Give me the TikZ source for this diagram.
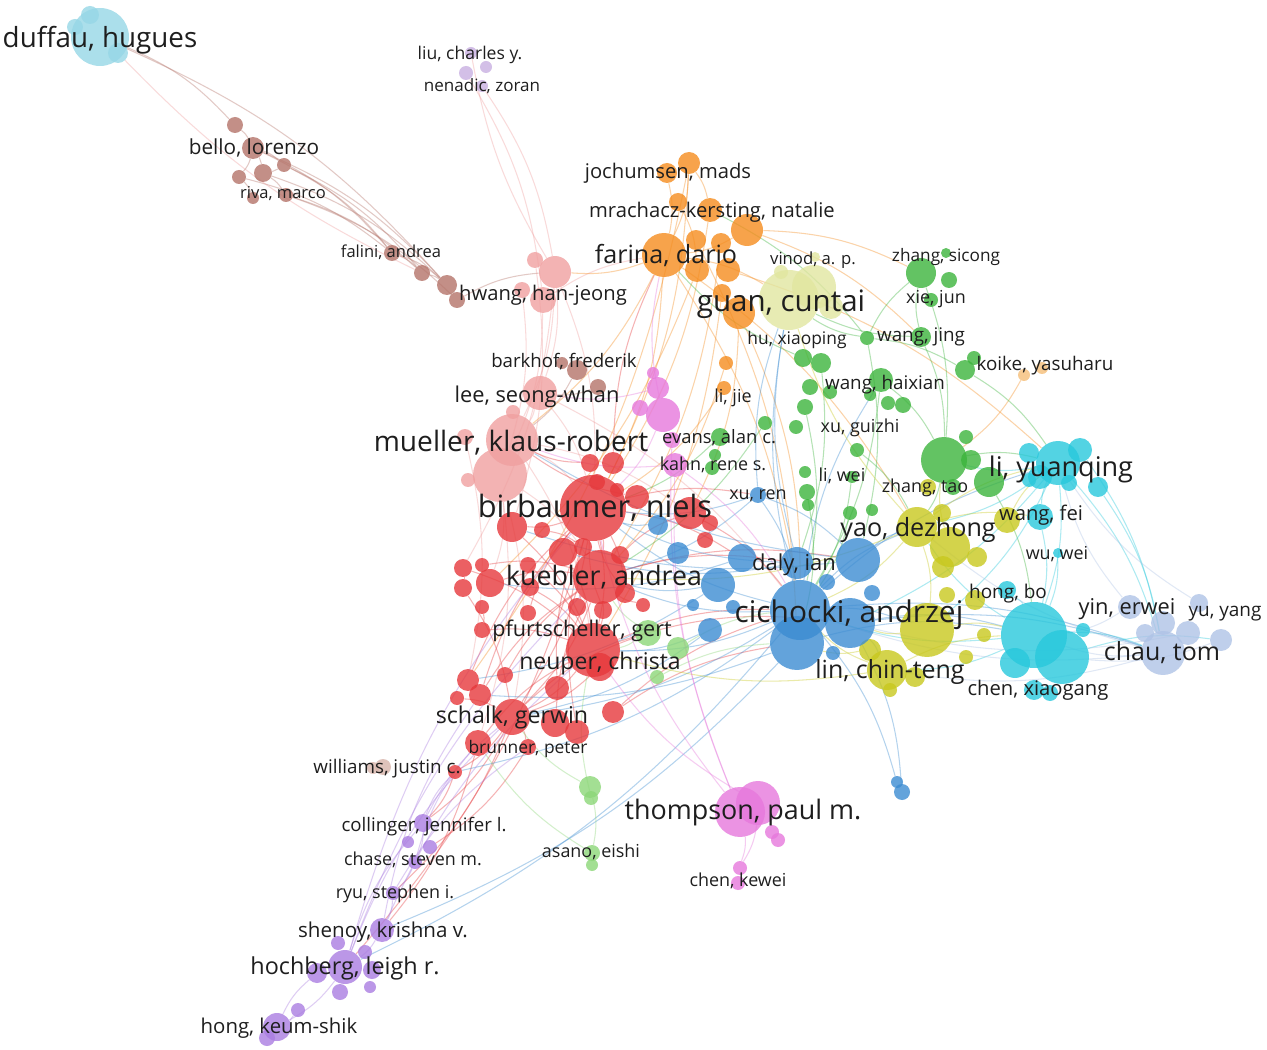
\documentclass[tikz,border=0pt]{standalone}
\usepackage{fontspec}
\setmainfont{Open Sans}
\usepackage{tikz}
\usetikzlibrary{positioning}

\definecolor{cred}{RGB}{230,57,60}
\definecolor{cblue}{RGB}{60,140,210}
\definecolor{cgreen}{RGB}{60,180,60}
\definecolor{cyao}{RGB}{200,200,30}
\definecolor{ccyan}{RGB}{40,200,220}
\definecolor{cchau}{RGB}{175,195,230}
\definecolor{corange}{RGB}{245,140,30}
\definecolor{cpink}{RGB}{240,160,160}
\definecolor{cbrown}{RGB}{180,115,105}
\definecolor{cviol}{RGB}{170,125,225}
\definecolor{cmag}{RGB}{230,120,220}
\definecolor{clgreen}{RGB}{140,215,120}
\definecolor{cguan}{RGB}{225,230,160}
\definecolor{cduff}{RGB}{150,215,230}
\definecolor{ckoike}{RGB}{245,190,120}
\definecolor{clav}{RGB}{200,175,225}
\definecolor{cwill}{RGB}{215,180,170}
\definecolor{labtext}{RGB}{30,30,30}

\pgfdeclarelayer{edges}
\pgfsetlayers{edges,main}

\tikzset{
  au/.style={circle, inner sep=0pt, draw=none, fill=#1, fill opacity=0.8},
  ed/.style={draw=#1, line width=0.6pt, draw opacity=0.38},
  lab/.style={text=labtext, inner sep=0pt, anchor=base,
    font=\fontsize{#1}{#1}\selectfont, yshift=-0.33*#1pt}
}

\begin{document}
\begin{tikzpicture}[x=0.02cm, y=-0.02cm]
\useasboundingbox (0,0) rectangle (1267,1050);

% clusters
\foreach \n/\x/\y/\rr in {duffau/100/37/29, du1/90/15/9, du2/75/27/8, du3/118/53/10}
  \node[au=cduff, minimum size=\rr*0.04cm] (\n) at (\x,\y) {};
\foreach \n/\x/\y/\rr in {liu1/471/53/6, liu2/486/67/6, liu3/466/73/7, liu4/482/86/6}
  \node[au=clav, minimum size=\rr*0.04cm] (\n) at (\x,\y) {};
\foreach \n/\x/\y/\rr in {br1/235/125/8, bello/253/148/11, br3/284/165/7, br4/239/177/7, br5/263/173/9,
  br6/253/198/6, riva/286/195/7, falini/392/253/8, br9/422/273/8, br10/447/285/10, br11/457/300/8,
  bark/577/370/10, br13/598/387/8, br14/562/363/6}
  \node[au=cbrown, minimum size=\rr*0.04cm] (\n) at (\x,\y) {};
\foreach \n/\x/\y/\rr in {hwang/555/272/16, pk2/535/260/8, pk3/543/300/13, pk4/522/290/8, lee/540/393/17,
  mue1/512/440/26, mue2/500/475/27, pk8/513/412/7, pk9/465/437/8, pk10/468/480/7}
  \node[au=cpink, minimum size=\rr*0.04cm] (\n) at (\x,\y) {};
\foreach \n/\x/\y/\rr in {joch/689/163/11, or2/667/173/10, or3/678/202/9, mrach/710/210/12, or5/747/230/16,
  farina/664/255/22, or7/696/240/10, or8/721/243/10, or9/697/270/12, or10/728/270/12, or11/722/293/9,
  or12/739/313/16, or13/726/363/7, lijie/724/388/7}
  \node[au=corange, minimum size=\rr*0.04cm] (\n) at (\x,\y) {};
\foreach \n/\x/\y/\rr in {guan/789/300/30, gu2/814/287/22, gu3/831/307/12, gu4/781/272/7, vinod/815/257/5}
  \node[au=cguan, minimum size=\rr*0.04cm] (\n) at (\x,\y) {};
\foreach \n/\x/\y/\rr in {zsic/921/273/15, gr2/946/253/5, gr3/949/280/8, xiej/931/300/7, gr5/867/338/7,
  wjing/921/337/10, gr7/803/358/9, gr8/821/363/10, gr9/810/387/8, whai/881/380/12, gr11/903/405/8,
  gr12/888/403/7, gr13/870/395/6, koig/965/370/10, gr15/974/358/7, gr16/805/407/8, gr17/765/423/7,
  gr18/796/427/7, evg/720/437/9, gr20/715/455/6, gr21/712/468/7, gr22/857/450/7, gr23/805/472/6,
  liwei/852/477/6, gr25/807/492/8, gr26/808/505/6, gr27/850/513/7, gr28/872/510/6, grbig/944/460/23,
  gr30/966/437/7, gr31/971/460/10, gr32/989/482/15, gr33/953/487/8, gr34/830/392/7}
  \node[au=cgreen, minimum size=\rr*0.04cm] (\n) at (\x,\y) {};
\foreach \n/\x/\y/\rr in {ko1/1024/375/6, ko2/1042/368/6}
  \node[au=ckoike, minimum size=\rr*0.04cm] (\n) at (\x,\y) {};
\foreach \n/\x/\y/\rr in {lyq/1058/463/22, cy2/1029/453/10, cy3/1080/450/12, cy4/1040/477/12, cy5/1098/487/10,
  cy6/1069/483/8, cy7/1029/480/7, wfei/1040/517/13, wuwei/1058/553/5, hongbo/1007/590/9,
  cybig/1034/635/33, cy12/1062/657/27, cy13/1015/663/15, cy14/1034/690/10, cy15/1083/630/7, cy16/1050/693/8}
  \node[au=ccyan, minimum size=\rr*0.04cm] (\n) at (\x,\y) {};
\foreach \n/\x/\y/\rr in {yin/1130/607/12, ch2/1163/623/12, yuy/1199/603/9, ch4/1188/633/12, chau/1163/653/22,
  ch6/1221/640/11, ch7/1145/633/9}
  \node[au=cchau, minimum size=\rr*0.04cm] (\n) at (\x,\y) {};
\foreach \n/\x/\y/\rr in {yao/917/527/20, ye2/950/547/20, ye3/942/513/9, ye4/928/487/8, ye5/1007/520/13,
  ye6/977/557/10, ye7/943/567/11, ye8/947/595/8, ye9/975/600/10, ye10/927/630/27, ye11/984/635/7,
  ye12/966/657/7, ye13/870/650/11, lin/887/670/20, ye15/915/677/10, ye16/890/690/7}
  \node[au=cyao, minimum size=\rr*0.04cm] (\n) at (\x,\y) {};
\foreach \n/\x/\y/\rr in {cich/800/610/30, bl2/850/623/25, bl3/797/643/27, bl4/858/560/22, daly/797/563/16,
  bl6/742/558/14, bl7/718/585/17, bl8/872/593/8, bl9/827/582/8, bl10/833/653/7, xuren/758/495/8,
  bl12/710/630/12, bl13/733/607/7, bl14/658/525/10, bl15/678/553/11, bl16/693/605/6, bl17/897/782/6, bl18/902/792/8}
  \node[au=cblue, minimum size=\rr*0.04cm] (\n) at (\x,\y) {};
\foreach \n/\x/\y/\rr in {birb/593/508/33, r2/590/463/9, r3/613/463/11, r4/637/497/12, r5/690/513/16,
  r6/710/523/8, r7/705/540/8, r8/512/527/15, r9/542/530/8, r10/563/552/14, r11/583/547/9, kueb/600/577/27,
  r13/620/555/9, r14/463/568/9, r15/482/565/7, r16/490/583/14, r17/463/588/9, r18/482/607/7, r19/528/613/8,
  r20/577/607/9, r21/603/610/9, r22/643/605/7, r23/482/630/8, r24/528/565/8, neup/593/650/27, r26/600/667/14,
  r27/468/680/11, r28/457/698/7, r29/480/695/11, r30/505/675/8, r31/557/688/12, r32/613/712/11, r33/530/587/9,
  schalk/512/717/18, r35/555/723/14, r36/577/732/12, r37/478/743/13, brun/528/747/8, r39/625/593/10,
  r40/597/482/8, will/455/772/7, r42/617/490/7}
  \node[au=cred, minimum size=\rr*0.04cm] (\n) at (\x,\y) {};
\foreach \n/\x/\y/\rr in {wil1/383/767/8, wil2/373/768/6}
  \node[au=cwill, minimum size=\rr*0.04cm] (\n) at (\x,\y) {};
\foreach \n/\x/\y/\rr in {pf1/648/633/13, pf2/678/648/11, pf3/657/677/7, as1/590/787/11, as2/591/798/7,
  asano/592/853/8, as4/592/865/6}
  \node[au=clgreen, minimum size=\rr*0.04cm] (\n) at (\x,\y) {};
\foreach \n/\x/\y/\rr in {coll/423/823/9, vi2/408/842/6, vi3/430/847/7, chase/415/862/7, ryu/393/893/7,
  shen/382/930/12, vi7/338/943/7, hoch/345/967/17, vi9/365/952/7, vi10/372/970/9, vi11/317/973/10,
  vi12/340/992/8, vi13/370/987/6, vi14/298/1010/7, keum/277/1027/14, vi16/267/1038/8}
  \node[au=cviol, minimum size=\rr*0.04cm] (\n) at (\x,\y) {};
\foreach \n/\x/\y/\rr in {ev1/653/373/6, ev2/658/388/11, ev3/663/415/17, ev4/640/408/8, evans/672/440/8,
  kahn/675/465/12, thom/740/812/25, th2/758/803/22, th3/772/832/7, th4/778/840/7, chenk/740/868/7, th6/738/883/7}
  \node[au=cmag, minimum size=\rr*0.04cm] (\n) at (\x,\y) {};

% links
\begin{pgfonlayer}{edges}
\fill[white] (0,0) rectangle (1267,1050);
\foreach \a/\b in {duffau/br1, duffau/br10, br1/bello, bello/br3, bello/br4, bello/br5, br3/br5, br4/br6,
  br5/riva, bello/falini, br3/br9, br5/br10, riva/br9, falini/br10, falini/br9, br9/br10, br10/br11,
  br11/hwang, br3/falini, bello/br10, bark/mue1, br13/lee, riva/br11, br4/falini}
  \draw[ed=cbrown] (\a) to[bend left=12] (\b);
\foreach \a/\b in {liu3/pk3, liu4/hwang, hwang/mue1, pk3/mue2, lee/mue1, mue1/birb, mue2/kueb, lee/birb,
  hwang/birb, pk4/mue2, mue2/schalk, pk3/farina, mue1/neup, mue2/r16, lee/cich, hwang/r14, pk9/r27,
  hwang/lee, pk2/r8, mue1/r5, mue2/r37}
  \draw[ed=cpink] (\a) to[bend left=12] (\b);
\foreach \a/\b in {birb/kueb, birb/neup, birb/schalk, kueb/neup, kueb/schalk, neup/schalk, birb/r8,
  birb/r10, r16/kueb, r14/neup, r27/birb, r29/kueb, schalk/brun, schalk/will, r37/neup, r36/birb,
  r32/cich, r5/cich, r4/mue1, r23/neup, r17/schalk, r35/kueb, r31/birb, birb/hoch, schalk/coll,
  will/coll, r3/farina, r2/mue1, neup/cich, kueb/daly, birb/bl6, r32/bl3, schalk/pf1, r29/birb,
  r14/r17, r15/kueb, r8/neup, r28/schalk, r19/birb, r22/kueb, r39/birb, r26/schalk, r33/neup,
  r27/r29, r10/neup, r21/birb, r20/kueb, neup/bl2, kueb/bl4, birb/xuren, r37/shen, brun/vi3,
  r13/r5, r30/kueb, r18/r23, r9/r11, r24/neup, r6/r7, schalk/ryu, birb/r39}
  \draw[ed=cred] (\a) to[bend left=12] (\b);
\foreach \a/\b in {farina/guan, farina/mue1, farina/birb, farina/cich, joch/farina, joch/mrach, or2/farina,
  or5/wjing, or5/zsic, or12/cich, or13/kueb, farina/yao, or10/lyq, or9/r16, joch/r27, or12/r5, lijie/birb,
  farina/hwang, or3/or9, or5/farina, ko1/grbig, or11/neup, mrach/birb, or7/bl3, or8/kueb, joch/birb}
  \draw[ed=corange] (\a) to[bend left=12] (\b);
\foreach \a/\b in {cich/birb, cich/kueb, cich/neup, cich/schalk, bl3/r29, daly/birb, cich/daly, xuren/cich,
  xuren/birb, xuren/bl4, cich/lyq, cich/chau, cich/bl17, bl2/bl18, cich/yao, bl4/yao, cich/hoch, bl7/kueb,
  bl14/birb, bl12/neup, cich/guan, daly/guan, bl2/cybig, bl4/mue1, bl3/shen, cich/whai, bl2/lin, xuren/guan,
  bl6/r16, bl7/r27, bl12/schalk, bl3/cybig, cich/ye10, daly/r10, bl4/r8, xuren/kueb, bl2/chau, cich/will}
  \draw[ed=cblue] (\a) to[bend left=12] (\b);
\foreach \a/\b in {wjing/guan, wjing/zsic, gr5/zsic, gr5/guan, whai/cich, grbig/yao, grbig/lyq, gr32/cybig,
  gr7/farina, gr8/daly, whai/grbig, zsic/grbig, koig/lyq, gr16/cich, evg/birb, gr22/yao, liwei/cich,
  gr27/cich, gr5/koig, gr5/bl4, wjing/grbig, mrach/gr5, gr25/bl3, gr17/kueb}
  \draw[ed=cgreen] (\a) to[bend left=12] (\b);
\foreach \a/\b in {pf1/neup, pf2/cich, pf1/kueb, as1/schalk, as1/asano, as2/neup, asano/r37, pf3/bl3}
  \draw[ed=clgreen] (\a) to[bend left=12] (\b);
\foreach \a/\b in {lyq/yao, lyq/chau, lyq/cybig, cybig/chau, cybig/cich, cybig/yao, wfei/lyq, wfei/cybig,
  hongbo/cybig, lyq/bl2, cy5/chau, cybig/lin, wuwei/cybig, lyq/ye10, cy3/chau, cy12/ch6, lyq/grbig}
  \draw[ed=ccyan] (\a) to[bend left=12] (\b);
\foreach \a/\b in {chau/cich, chau/yao, chau/cybig, yin/lyq, yin/cybig, ch4/bl2, chau/lin, yuy/lyq, ch6/cy12}
  \draw[ed=cchau] (\a) to[bend left=12] (\b);
\foreach \a/\b in {yao/cich, yao/ye10, lin/cich, ye10/bl2, yao/lyq, ye5/lyq, yao/guan, ye10/cybig,
  lin/neup, yao/kueb, ye13/bl3, yao/wfei, ye2/grbig, lin/cybig}
  \draw[ed=cyao] (\a) to[bend left=12] (\b);
\foreach \a/\b in {hoch/schalk, hoch/coll, coll/chase, chase/ryu, ryu/shen, shen/hoch, hoch/keum,
  coll/schalk, hoch/birb, vi14/keum, shen/neup, chase/r37, coll/will, ryu/brun, keum/vi11, hoch/kueb, shen/r29}
  \draw[ed=cviol] (\a) to[bend left=12] (\b);
\foreach \a/\b in {thom/chenk, th2/chenk, thom/evans, kahn/mue1, ev3/birb, thom/birb, thom/kahn,
  ev2/lee, kahn/cich, th2/neup, ev3/farina}
  \draw[ed=cmag] (\a) to[bend left=12] (\b);
\foreach \a/\b in {liu1/hwang, du3/br9}
  \draw[ed=cpink] (\a) to[bend right=10] (\b);
\end{pgfonlayer}

% labels
\node[lab=15.8] (tduffau) at (100,38) {duffau, hugues};
\node[lab=10] (tliu) at (470,54) {liu, charles y.};
\node[lab=9.7] (tnenadic) at (482,86) {nenadic, zoran};
\node[lab=11.8] (tbello) at (254,148) {bello, lorenzo};
\node[lab=9.4] (triva) at (283,193) {riva, marco};
\node[lab=9.4] (tfalini) at (391,252) {falini, andrea};
\node[lab=11.5] (tjoch) at (668,172) {jochumsen, mads};
\node[lab=11.5] (tmrach) at (712,211) {mrachacz-kersting, natalie};
\node[lab=14.3] (tfarina) at (666,255) {farina, dario};
\node[lab=9.5] (tvinod) at (813,259) {vinod, a. p.};
\node[lab=9.8] (tzsic) at (946,256) {zhang, sicong};
\node[lab=16.8] (tguan) at (781,302) {guan, cuntai};
\node[lab=10.2] (txiej) at (936,298) {xie, jun};
\node[lab=11.5] (thwang) at (543,294) {hwang, han-jeong};
\node[lab=9.9] (thu) at (797,339) {hu, xiaoping};
\node[lab=10.7] (twjing) at (921,335) {wang, jing};
\node[lab=10.6] (tbark) at (564,361) {barkhof, frederik};
\node[lab=10.7] (tkoike) at (1045,364) {koike, yasuharu};
\node[lab=10.7] (twhai) at (885,383) {wang, haixian};
\node[lab=12.4] (tlee) at (537,395) {lee, seong-whan};
\node[lab=10.2] (tlijie) at (733,397) {li, jie};
\node[lab=10.2] (txug) at (860,427) {xu, guizhi};
\node[lab=16] (tmue) at (511,442) {mueller, klaus-robert};
\node[lab=10.5] (tevans) at (719,437) {evans, alan c.};
\node[lab=10.2] (tkahn) at (713,465) {kahn, rene s.};
\node[lab=15.4] (tlyq) at (1061,468) {li, yuanqing};
\node[lab=10.2] (tliwei) at (842,476) {li, wei};
\node[lab=10.2] (tztao) at (925,487) {zhang, tao};
\node[lab=10.2] (txuren) at (758,494) {xu, ren};
\node[lab=17.5] (tbirb) at (595,507) {birbaumer, niels};
\node[lab=11.5] (twfei) at (1041,514) {wang, fei};
\node[lab=14.3] (tyao) at (918,528) {yao, dezhong};
\node[lab=10.2] (twuwei) at (1057,554) {wu, wei};
\node[lab=12.5] (tdaly) at (794,563) {daly, ian};
\node[lab=15.2] (tkueb) at (604,577) {kuebler, andrea};
\node[lab=10.8] (thongbo) at (1008,592) {hong, bo};
\node[lab=12.4] (tyin) at (1127,607) {yin, erwei};
\node[lab=10.8] (tyuy) at (1225,610) {yu, yang};
\node[lab=17] (tcich) at (849,613) {cichocki, andrzej};
\node[lab=12.3] (tpfurt) at (582,629) {pfurtscheller, gert};
\node[lab=14.2] (tchau) at (1162,652) {chau, tom};
\node[lab=13.1] (tneup) at (600,662) {neuper, christa};
\node[lab=14.2] (tlin) at (890,670) {lin, chin-teng};
\node[lab=11.5] (tchenx) at (1038,689) {chen, xiaogang};
\node[lab=13.2] (tschalk) at (512,716) {schalk, gerwin};
\node[lab=9.9] (tbrun) at (528,748) {brunner, peter};
\node[lab=10.7] (twill) at (387,767) {williams, justin c.};
\node[lab=15.3] (tthom) at (743,811) {thompson, paul m.};
\node[lab=10.6] (tcoll) at (424,825) {collinger, jennifer l.};
\node[lab=10.2] (tasano) at (591,852) {asano, eishi};
\node[lab=10.2] (tchase) at (413,860) {chase, steven m.};
\node[lab=10.2] (tchenk) at (738,881) {chen, kewei};
\node[lab=10.2] (tryu) at (395,893) {ryu, stephen i.};
\node[lab=11.7] (tshen) at (383,931) {shenoy, krishna v.};
\node[lab=13.3] (thoch) at (345,967) {hochberg, leigh r.};
\node[lab=11.6] (tkeum) at (279,1027) {hong, keum-shik};
\end{tikzpicture}
\end{document}
